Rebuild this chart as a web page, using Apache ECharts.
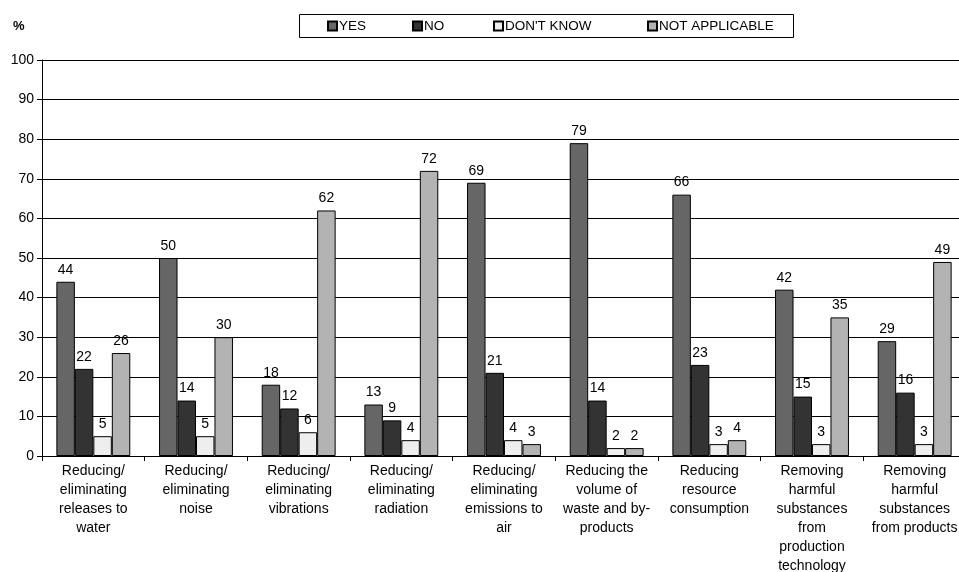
<!DOCTYPE html>
<html>
<head>
<meta charset="utf-8">
<script src="https://cdn.jsdelivr.net/npm/echarts@6/dist/echarts.min.js"></script>
<style>html,body{margin:0;padding:0;background:#fff;}#c{width:959px;height:572px;}</style>
</head>
<body>
<div id="c"></div>
<script>
const categories = [
  "Reducing/\neliminating\nreleases to\nwater",
  "Reducing/\neliminating\nnoise",
  "Reducing/\neliminating\nvibrations",
  "Reducing/\neliminating\nradiation",
  "Reducing/\neliminating\nemissions to\nair",
  "Reducing the\nvolume of\nwaste and by-\nproducts",
  "Reducing\nresource\nconsumption",
  "Removing\nharmful\nsubstances\nfrom\nproduction\ntechnology",
  "Removing\nharmful\nsubstances\nfrom products"
];
const seriesNames = ["YES", "NO", "DON'T KNOW", "NOT APPLICABLE"];
const yesValues = [44, 50, 18, 13, 69, 79, 66, 42, 29];
const noValues = [22, 14, 12, 9, 21, 14, 23, 15, 16];
const dontKnowValues = [5, 5, 6, 4, 4, 2, 3, 3, 3];
const notApplicableValues = [26, 30, 62, 72, 3, 2, 4, 35, 49];
const yTicks = [0, 10, 20, 30, 40, 50, 60, 70, 80, 90, 100];

const colors = ["#666666", "#333333", "#eeeeee", "#b3b3b3"];
const allValues = [yesValues, noValues, dontKnowValues, notApplicableValues];
const font = "Arial, 'Liberation Sans', sans-serif";

const chart = echarts.init(document.getElementById('c'), null, {renderer: 'canvas'});
const legendLefts = [327, 412, 493, 647];

const series = seriesNames.map((n, i) => ({
  name: n,
  type: 'bar',
  data: allValues[i],
  barGap: '0%',
  barCategoryGap: '28%',
  itemStyle: {color: colors[i], borderColor: '#000', borderWidth: 1},
  label: {show: true, position: 'top', distance: 5, color: '#000', fontSize: 14, fontFamily: font},
  emphasis: {disabled: true},
  animation: false
}));

chart.setOption({
  animation: false,
  textStyle: {fontFamily: font},
  graphic: [
    {type: 'rect', shape: {x: 299.5, y: 14.5, width: 494, height: 23}, style: {fill: '#fff', stroke: '#000', lineWidth: 1}, z: 0},
    {type: 'text', left: 13, top: 20, style: {text: '%', font: 'bold 13px ' + font, fill: '#000'}}
  ],
  legend: seriesNames.map((n, i) => ({
    data: [{name: n, icon: 'rect'}],
    left: legendLefts[i],
    top: 19,
    padding: 0,
    itemWidth: 9,
    itemHeight: 9,
    itemGap: 0,
    selectedMode: false,
    textStyle: {fontSize: 13.5, color: '#000', fontFamily: font, padding: [0, 0, 0, -3]},
    z: 5
  })),
  grid: {left: 42, top: 60, width: 924, height: 396, containLabel: false, outerBoundsMode: 'none'},
  xAxis: {
    type: 'category',
    data: categories,
    axisLine: {lineStyle: {color: '#000', width: 1}},
    axisTick: {show: true, length: 5, lineStyle: {color: '#000'}},
    axisLabel: {interval: 0, color: '#000', fontSize: 14, lineHeight: 19, margin: 6, fontFamily: font}
  },
  yAxis: {
    type: 'value',
    min: 0,
    max: 100,
    interval: 10,
    axisLine: {show: true, lineStyle: {color: '#000'}},
    axisTick: {show: true, length: 5, lineStyle: {color: '#000'}},
    axisLabel: {color: '#000', fontSize: 14, margin: 8, fontFamily: font,
      formatter: v => yTicks.includes(v) ? String(v) : ''},
    splitLine: {show: true, lineStyle: {color: '#000', width: 1}}
  },
  series: series
});
</script>
</body>
</html>
